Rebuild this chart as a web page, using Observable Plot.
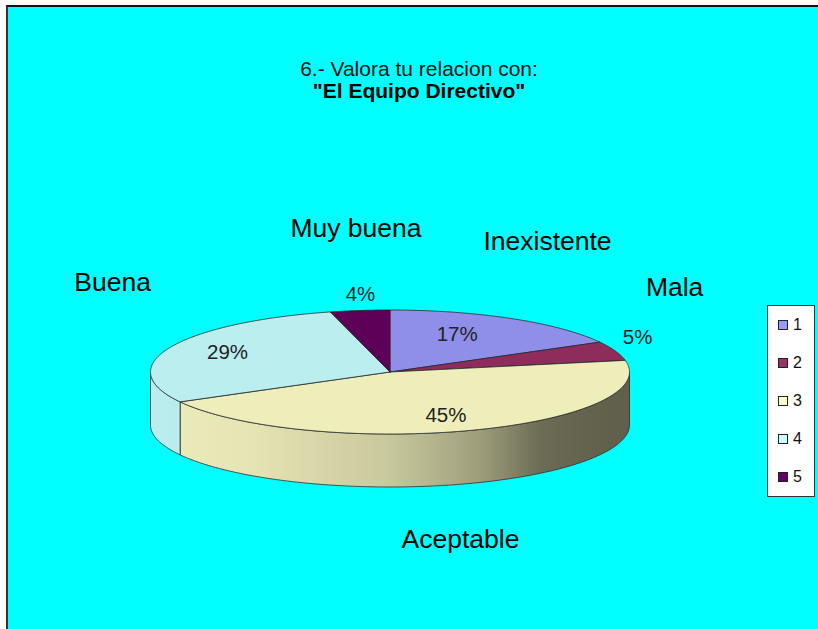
<!DOCTYPE html>
<html><head><meta charset="utf-8">
<script src="https://cdn.jsdelivr.net/npm/d3@7"></script>
<script src="https://cdn.jsdelivr.net/npm/@observablehq/plot@0.6"></script>
<style>
body{margin:0;background:#fff;font-family:"Liberation Sans",Arial,sans-serif;}
#wrap{position:relative;width:818px;height:629px;overflow:hidden;}
#panel{position:absolute;left:6px;top:5px;right:0;bottom:0;border-top:2px solid #111;border-left:2px solid #333;background:#00ffff;}
#chart{position:absolute;left:0;top:0;}
#title{position:absolute;left:219px;width:400px;top:58px;text-align:center;font-size:21px;line-height:22px;color:#111;}
#title b{font-weight:bold;color:#000;}
#legend{position:absolute;left:767px;top:305px;width:46px;height:190px;border:1px solid #333;background:#fff;display:flex;flex-direction:column;}
.row{flex:1;display:flex;align-items:center;padding-left:10px;font-size:16px;color:#111;}
.sw{width:8px;height:8px;border:1px solid #222;margin-right:5px;}
</style></head><body>
<div id="wrap"><div id="panel"></div><div id="title"></div><div id="chart"></div><div id="legend"></div></div>
<script>
// ---- data ----
const titleLines = ["6.- Valora tu relacion con:", "\"El Equipo Directivo\""];
const categories = ["Inexistente", "Mala", "Aceptable", "Buena", "Muy buena"];
const legendKeys = ["1", "2", "3", "4", "5"];
const values = [17, 5, 45, 29, 4];
const topColors = ["#8f8fea", "#8e2d5c", "#eeeebb", "#bbeeee", "#5e0058"];
const legendColors = ["#9999ff", "#993366", "#ffffcc", "#ccffff", "#660066"];

// ---- layout ----
const W = 818, H = 629;
const cx = 389.5, cy = 371.5, rx = 239.5, ry = 62, depth = 53;
// label placement as multiples of the ellipse radii along each slice's mid-angle
const nameRadius = [[1.292, 2.446], [1.263, 4.04], [0.869, 2.871], [1.262, 3.619], [1.133, 2.326]];
const pctRadius = [[0.551, 0.703], [1.099, 1.624], [0.690, 0.746], [0.739, 0.804], [0.983, 1.260]];
const shadeStops = [[0, 1.0], [0.21, 0.96], [0.5, 0.84], [0.69, 0.66], [0.81, 0.46], [0.92, 0.41], [1, 0.40]];

const arcs = d3.pie().sort(null).startAngle(0).endAngle(2 * Math.PI)(values);

function pt(a, dz = 0) { return {x: cx + rx * Math.sin(a), y: cy - ry * Math.cos(a) + dz}; }
function arcPts(a0, a1, dz) {
  const n = Math.max(2, Math.ceil((a1 - a0) / (Math.PI / 360)));
  return d3.range(n + 1).map(i => pt(a0 + (a1 - a0) * i / n, dz));
}

const walls = [];
arcs.forEach((a, i) => {
  const lo = Math.max(a.startAngle, Math.PI / 2), hi = Math.min(a.endAngle, 3 * Math.PI / 2);
  if (hi > lo) {
    const top = arcPts(lo, hi, 0);
    const pts = top.concat(arcPts(lo, hi, depth).reverse(), [top[0]]);
    walls.push({i, pts});
  }
});
const faces = arcs.map((a, i) => {
  const c = {x: cx, y: cy};
  return {i, pts: [c, ...arcPts(a.startAngle, a.endAngle, 0), c]};
});

const labels = arcs.map((a, i) => {
  const m = (a.startAngle + a.endAngle) / 2;
  const s = Math.sin(m), co = Math.cos(m);
  return {
    name: categories[i],
    pct: values[i] + "%",
    nx: cx + rx * s * nameRadius[i][0], ny: cy - ry * co * nameRadius[i][1],
    px: cx + rx * s * pctRadius[i][0], py: cy - ry * co * pctRadius[i][1]
  };
});

const plot = Plot.plot({
  width: W, height: H,
  margin: 0,
  x: {domain: [0, W], range: [0, W], axis: null},
  y: {domain: [0, H], range: [0, H], axis: null},
  style: {background: "transparent", fontFamily: "Liberation Sans, Arial, sans-serif", overflow: "visible"},
  marks: [
    ...walls.map(w => Plot.line(w.pts, {x: "x", y: "y", fill: `url(#wall${w.i})`, stroke: "#2a2a2a", strokeWidth: 0.8, curve: "linear"})),
    ...faces.map(f => Plot.line(f.pts, {x: "x", y: "y", fill: topColors[f.i], stroke: "#2a2a2a", strokeWidth: 0.8, curve: "linear"})),
    Plot.text(labels, {x: "px", y: "py", text: "pct", fontSize: 20.5, fill: "#222"}),
    Plot.text(labels, {x: "nx", y: "ny", text: "name", fontSize: 26.5, fill: "#000"})
  ]
});

// wall gradients (Excel-style lighting from left to right)
const xs = plot.scale("x");
const defs = d3.select(plot).insert("defs", ":first-child");
topColors.forEach((col, i) => {
  const g = defs.append("linearGradient").attr("id", "wall" + i)
    .attr("gradientUnits", "userSpaceOnUse")
    .attr("x1", xs.apply(cx - rx)).attr("x2", xs.apply(cx + rx)).attr("y1", 0).attr("y2", 0);
  const c = d3.rgb(col);
  shadeStops.forEach(([o, k]) => g.append("stop").attr("offset", o)
    .attr("stop-color", d3.rgb(c.r * k, c.g * k, c.b * k).formatHex()));
});
document.getElementById("chart").appendChild(plot);

// title
const t = document.getElementById("title");
t.innerHTML = `<div>${titleLines[0]}</div><div><b>${titleLines[1]}</b></div>`;

// legend
const lg = document.getElementById("legend");
legendKeys.forEach((k, i) => {
  const r = document.createElement("div"); r.className = "row";
  const sw = document.createElement("span"); sw.className = "sw"; sw.style.background = legendColors[i];
  r.appendChild(sw); r.appendChild(document.createTextNode(k));
  lg.appendChild(r);
});
</script>
</body></html>
